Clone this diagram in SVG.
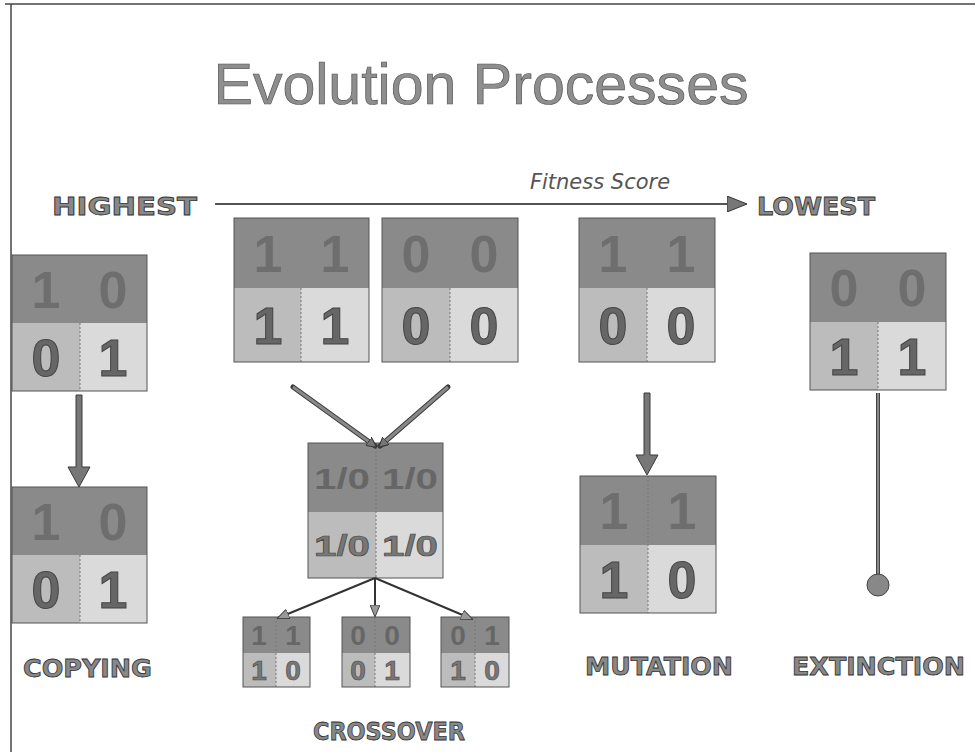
<svg xmlns="http://www.w3.org/2000/svg" width="975" height="752" viewBox="0 0 975 752">
<style>
.top{fill:#8a8a8a}
.bl{fill:#bcbcbc}
.br{fill:#dadada}
.frame{fill:none;stroke:#555;stroke-width:1}
.div{stroke:#777;stroke-width:1;stroke-dasharray:2 2}
.dt{font-family:"Liberation Sans",Arial,sans-serif;font-weight:bold;font-size:52px;fill:#6e6e6e;text-anchor:middle}
.db{font-family:"Liberation Sans",Arial,sans-serif;font-weight:bold;font-size:52px;fill:#666;stroke:#444;stroke-width:1;text-anchor:middle}
.ds{font-family:"Liberation Sans",Arial,sans-serif;font-weight:bold;font-size:28px;text-anchor:middle}
.dm{font-family:"Liberation Sans",Arial,sans-serif;font-weight:bold;font-size:30px;text-anchor:middle}
.lbl{font-family:"DejaVu Sans",Verdana,sans-serif;font-weight:bold;font-size:24px;fill:#888;stroke:#333;stroke-width:0.8}
.bigarrow{fill:#777;stroke:#3a3a3a;stroke-width:1}
</style>
<defs>
<marker id="head" markerWidth="10" markerHeight="10" refX="8" refY="5" orient="auto" markerUnits="userSpaceOnUse">
<path d="M0,0 L10,5 L0,10 Z" fill="#777" stroke="#333" stroke-width="1"/>
</marker>
<marker id="headL" markerWidth="20" markerHeight="16" refX="18" refY="8" orient="auto" markerUnits="userSpaceOnUse">
<path d="M0,0 L20,8 L0,16 Z" fill="#777" stroke="#333" stroke-width="1"/>
</marker>
<marker id="headS" markerWidth="12" markerHeight="10" refX="11" refY="5" orient="auto" markerUnits="userSpaceOnUse">
<path d="M0,0 L12,5 L0,10 Z" fill="#999" stroke="#444" stroke-width="1"/>
</marker>
</defs>
<rect width="975" height="752" fill="#fff"/>
<g id="frame" stroke="#444" stroke-width="1.5" fill="none">
<line x1="5" y1="4" x2="975" y2="4"/>
<line x1="11" y1="4" x2="11" y2="752"/>
</g>
<g id="title">
<text x="481" y="104" font-family="Liberation Sans,Arial,sans-serif" font-size="58" fill="#8e8e8e" stroke="#555" stroke-width="0.7" text-anchor="middle" textLength="535" lengthAdjust="spacingAndGlyphs">Evolution Processes</text>
</g>
<g id="axis">
<text x="600" y="189" font-family="DejaVu Sans,Verdana,sans-serif" font-style="italic" font-size="21" fill="#555" text-anchor="middle">Fitness Score</text>
<text x="52" y="215" class="lbl" font-size="27" textLength="145" lengthAdjust="spacingAndGlyphs">HIGHEST</text>
<text x="757" y="215" class="lbl" font-size="27" textLength="118" lengthAdjust="spacingAndGlyphs">LOWEST</text>
</g>

<g id="copy-parent">
<rect class="top" x="12" y="255" width="135" height="68"/>
<rect class="bl" x="12" y="323" width="68" height="68"/>
<rect class="br" x="80" y="323" width="67" height="68"/>
<line class="div" x1="80" y1="323" x2="80" y2="391"/>
<rect class="frame" x="12" y="255" width="135" height="136"/>
<text class="dt" x="46" y="308">1</text><text class="dt" x="113" y="308">0</text>
<text class="db" x="46" y="376">0</text><text class="db" x="113" y="376">1</text>
</g>
<g id="copy-child">
<rect class="top" x="12" y="487" width="135" height="68"/>
<rect class="bl" x="12" y="555" width="68" height="68"/>
<rect class="br" x="80" y="555" width="67" height="68"/>
<line class="div" x1="80" y1="555" x2="80" y2="623"/>
<rect class="frame" x="12" y="487" width="135" height="136"/>
<text class="dt" x="46" y="540">1</text><text class="dt" x="113" y="540">0</text>
<text class="db" x="46" y="608">0</text><text class="db" x="113" y="608">1</text>
</g>
<g id="label-copying"><text class="lbl" x="23" y="677" textLength="129" lengthAdjust="spacingAndGlyphs">COPYING</text></g>

<g id="parent-a">
<rect class="top" x="234" y="218" width="135" height="70"/>
<rect class="bl" x="234" y="288" width="67" height="74"/>
<rect class="br" x="301" y="288" width="68" height="74"/>
<line class="div" x1="301" y1="288" x2="301" y2="362"/>
<rect class="frame" x="234" y="218" width="135" height="144"/>
<text class="dt" x="268" y="272">1</text><text class="dt" x="335" y="272">1</text>
<text class="db" x="268" y="344">1</text><text class="db" x="335" y="344">1</text>
</g>
<g id="parent-b">
<rect class="top" x="382" y="218" width="136" height="70"/>
<rect class="bl" x="382" y="288" width="68" height="74"/>
<rect class="br" x="450" y="288" width="68" height="74"/>
<line class="div" x1="450" y1="288" x2="450" y2="362"/>
<rect class="frame" x="382" y="218" width="136" height="144"/>
<text class="dt" x="416" y="272">0</text><text class="dt" x="484" y="272">0</text>
<text class="db" x="416" y="344">0</text><text class="db" x="484" y="344">0</text>
</g>
<g id="crossover-child">
<rect class="top" x="308" y="443" width="135" height="69"/>
<rect class="bl" x="308" y="512" width="68" height="66"/>
<rect class="br" x="376" y="512" width="67" height="66"/>
<line class="div" x1="376" y1="443" x2="376" y2="578"/>
<rect class="frame" x="308" y="443" width="135" height="135"/>
<text class="dm" x="342" y="489" fill="#666" textLength="56" lengthAdjust="spacingAndGlyphs">1/0</text><text class="dm" x="410" y="489" fill="#666" textLength="56" lengthAdjust="spacingAndGlyphs">1/0</text>
<text class="dm" x="342" y="556" fill="#777" stroke="#444" stroke-width="0.6" textLength="56" lengthAdjust="spacingAndGlyphs">1/0</text><text class="dm" x="410" y="556" fill="#777" stroke="#444" stroke-width="0.6" textLength="56" lengthAdjust="spacingAndGlyphs">1/0</text>
</g>
<g id="offspring-1">
<rect class="top" x="243" y="617" width="67" height="36"/>
<rect class="bl" x="243" y="653" width="33" height="34"/>
<rect class="br" x="276" y="653" width="34" height="34"/>
<line class="div" x1="276" y1="617" x2="276" y2="687"/>
<rect class="frame" x="243" y="617" width="67" height="70"/>
<text class="ds" x="259" y="645" fill="#666">1</text><text class="ds" x="293" y="645" fill="#666">1</text>
<text class="ds" x="259" y="680" fill="#777" stroke="#444" stroke-width="0.6">1</text><text class="ds" x="293" y="680" fill="#777" stroke="#444" stroke-width="0.6">0</text>
</g>
<g id="offspring-2">
<rect class="top" x="342" y="617" width="68" height="36"/>
<rect class="bl" x="342" y="653" width="33" height="34"/>
<rect class="br" x="375" y="653" width="35" height="34"/>
<line class="div" x1="375" y1="617" x2="375" y2="687"/>
<rect class="frame" x="342" y="617" width="68" height="70"/>
<text class="ds" x="358" y="645" fill="#666">0</text><text class="ds" x="392" y="645" fill="#666">0</text>
<text class="ds" x="358" y="680" fill="#777" stroke="#444" stroke-width="0.6">0</text><text class="ds" x="392" y="680" fill="#777" stroke="#444" stroke-width="0.6">1</text>
</g>
<g id="offspring-3">
<rect class="top" x="441" y="617" width="68" height="36"/>
<rect class="bl" x="441" y="653" width="34" height="34"/>
<rect class="br" x="475" y="653" width="34" height="34"/>
<line class="div" x1="475" y1="617" x2="475" y2="687"/>
<rect class="frame" x="441" y="617" width="68" height="70"/>
<text class="ds" x="458" y="645" fill="#666">0</text><text class="ds" x="492" y="645" fill="#666">1</text>
<text class="ds" x="458" y="680" fill="#777" stroke="#444" stroke-width="0.6">1</text><text class="ds" x="492" y="680" fill="#777" stroke="#444" stroke-width="0.6">0</text>
</g>
<g id="label-crossover"><text class="lbl" x="313" y="740" textLength="152" lengthAdjust="spacingAndGlyphs">CROSSOVER</text></g>

<g id="mutation-parent">
<rect class="top" x="579" y="218" width="136" height="70"/>
<rect class="bl" x="579" y="288" width="68" height="74"/>
<rect class="br" x="647" y="288" width="68" height="74"/>
<line class="div" x1="647" y1="288" x2="647" y2="362"/>
<rect class="frame" x="579" y="218" width="136" height="144"/>
<text class="dt" x="613" y="272">1</text><text class="dt" x="681" y="272">1</text>
<text class="db" x="613" y="344">0</text><text class="db" x="681" y="344">0</text>
</g>
<g id="mutation-child">
<rect class="top" x="580" y="476" width="136" height="69"/>
<rect class="bl" x="580" y="545" width="68" height="68"/>
<rect class="br" x="648" y="545" width="68" height="68"/>
<line class="div" x1="648" y1="476" x2="648" y2="613"/>
<rect class="frame" x="580" y="476" width="136" height="137"/>
<text class="dt" x="614" y="529">1</text><text class="dt" x="682" y="529">1</text>
<text class="db" x="614" y="598">1</text><text class="db" x="682" y="598">0</text>
</g>
<g id="label-mutation"><text class="lbl" x="585" y="675" textLength="148" lengthAdjust="spacingAndGlyphs">MUTATION</text></g>

<g id="extinct">
<rect class="top" x="810" y="253" width="136" height="69"/>
<rect class="bl" x="810" y="322" width="68" height="68"/>
<rect class="br" x="878" y="322" width="68" height="68"/>
<line class="div" x1="878" y1="322" x2="878" y2="390"/>
<rect class="frame" x="810" y="253" width="136" height="137"/>
<text class="dt" x="844" y="306">0</text><text class="dt" x="912" y="306">0</text>
<text class="db" x="844" y="375">1</text><text class="db" x="912" y="375">1</text>
</g>
<g id="label-extinction"><text class="lbl" x="792" y="675" textLength="173" lengthAdjust="spacingAndGlyphs">EXTINCTION</text></g>

<g id="connectors">
<line x1="215" y1="204" x2="745" y2="204" stroke="#555" stroke-width="2" marker-end="url(#headL)"/>
<path class="bigarrow" d="M76,395 L82,395 L82,467 L90,467 L79,487 L68,467 L76,467 Z"/>
<path class="bigarrow" d="M644,393 L650,393 L650,455 L658,455 L647,475 L636,455 L644,455 Z"/>
<line x1="293" y1="387" x2="375" y2="446" stroke="#3a3a3a" stroke-width="5" stroke-linecap="round"/>
<line x1="293" y1="387" x2="375" y2="446" stroke="#888" stroke-width="3" marker-end="url(#head)"/>
<line x1="448" y1="387" x2="380" y2="446" stroke="#3a3a3a" stroke-width="5" stroke-linecap="round"/>
<line x1="448" y1="387" x2="380" y2="446" stroke="#888" stroke-width="3" marker-end="url(#head)"/>
<line x1="375" y1="578" x2="278" y2="618" stroke="#333" stroke-width="2" marker-end="url(#headS)"/>
<line x1="375" y1="578" x2="375" y2="616" stroke="#333" stroke-width="2" marker-end="url(#headS)"/>
<line x1="375" y1="578" x2="472" y2="619" stroke="#333" stroke-width="2" marker-end="url(#headS)"/>
<line x1="878" y1="393" x2="878" y2="578" stroke="#444" stroke-width="4"/>
<line x1="878" y1="393" x2="878" y2="578" stroke="#888" stroke-width="2"/>
<circle cx="878" cy="585" r="11" fill="#888" stroke="#444" stroke-width="1"/>
</g>
</svg>
